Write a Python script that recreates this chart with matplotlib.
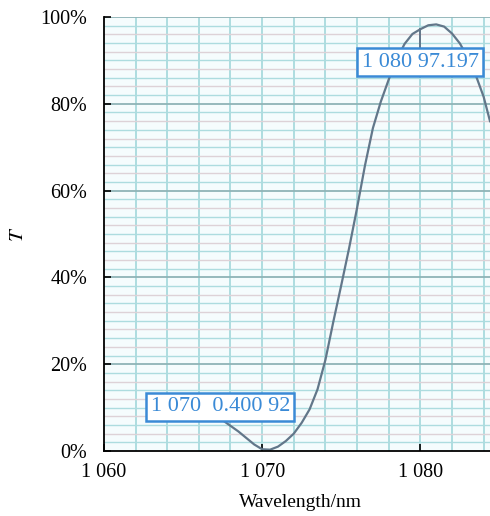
import matplotlib
matplotlib.use("Agg")
import matplotlib.pyplot as plt
import numpy as np
from matplotlib.ticker import FuncFormatter

plt.rcParams.update({
    "font.family": "serif",
    "font.serif": ["Liberation Serif", "DejaVu Serif"],
    "mathtext.fontset": "stix",
})

# transmittance curve
wavelength = [1066.5, 1067.0, 1067.5, 1068.0, 1068.5, 1069.0, 1069.5, 1070.0,
              1070.5, 1071.0, 1071.5, 1072.0, 1072.5, 1073.0, 1073.5, 1074.0,
              1074.5, 1075.0, 1075.5, 1076.0, 1076.5, 1077.0, 1077.5, 1078.0,
              1078.5, 1079.0, 1079.5, 1080.0, 1080.5, 1081.0, 1081.5, 1082.0,
              1082.5, 1083.0, 1083.5, 1084.0, 1084.4]
transmittance = [9.5, 8.3, 7.1, 5.8, 4.5, 3.0, 1.5, 0.4,
                 0.3, 1.0, 2.3, 4.0, 6.5, 9.6, 14.2, 21.0,
                 29.8, 38.2, 46.8, 56.0, 65.8, 74.4, 80.5, 85.6,
                 90.2, 93.8, 96.1, 97.197, 98.1, 98.3, 97.8, 96.2,
                 93.9, 90.6, 86.6, 81.6, 76.0]

# data tips: wavelength, value, text
tip_hi = (1080, 97.197, "1 080 97.197")
tip_lo = (1070, 0.40092, "1 070  0.400 92")

x_ticks = [1060, 1070, 1080]
y_ticks = [0, 20, 40, 60, 80, 100]

fig = plt.figure(figsize=(4.9, 5.16), dpi=100)
ax = fig.add_axes([0.212, 0.126, 0.788, 0.841])
ax.set_facecolor("#f5fcfd")

ax.set_xlim(1060, 1084.4)
ax.set_ylim(0, 100)

# graph-paper grid
for xv in np.arange(1062, 1085, 2):
    ax.axvline(xv, color="#9ad4d8", lw=1.1, zorder=0.5)
for i, yv in enumerate(np.arange(2, 101, 2)):
    if yv % 20 == 0:
        c, lw = "#8fb3b7", 1.3
    elif i % 2 == 0:
        c, lw = "#addcdf", 1.0
    else:
        c, lw = "#ddd2d7", 1.0
    ax.axhline(yv, color=c, lw=lw, zorder=0.5)

ax.plot(wavelength, transmittance, color="#62778a", lw=1.6, zorder=2)

# data tip markers and boxes
box = dict(boxstyle="square,pad=0.2", fc="white", ec="#3a8ad6", lw=1.8)
ax.plot([tip_hi[0], tip_hi[0]], [tip_hi[1], 88], color="#62778a", lw=1.4, zorder=2)
ax.text(1080.0, 89.6, tip_hi[2], fontsize=16, color="#3a8ad6",
        ha="center", va="center", bbox=box, zorder=3)
ax.text(1067.35, 10.2, tip_lo[2], fontsize=16, color="#3a8ad6",
        ha="center", va="center", bbox=box, zorder=3)

ax.set_xticks(x_ticks)
ax.set_yticks(y_ticks)
ax.xaxis.set_major_formatter(FuncFormatter(lambda v, p: f"{int(v):,}".replace(",", " ")))
ax.yaxis.set_major_formatter(FuncFormatter(lambda v, p: f"{int(v)}%"))
ax.tick_params(direction="in", length=5, width=1.2, labelsize=14.5, colors="black")
ax.tick_params(axis="x", pad=9)
ax.tick_params(axis="y", pad=12)

for s in ["top", "right"]:
    ax.spines[s].set_visible(False)
for s in ["left", "bottom"]:
    ax.spines[s].set_linewidth(1.3)
    ax.spines[s].set_zorder(4)

ax.set_xlabel("Wavelength/nm", fontsize=14)
ax.xaxis.set_label_coords(0.508, -0.1)
ax.set_ylabel("$T$", fontsize=15)
ax.yaxis.set_label_coords(-0.197, 0.5)

fig.savefig("out.png", dpi=100)
